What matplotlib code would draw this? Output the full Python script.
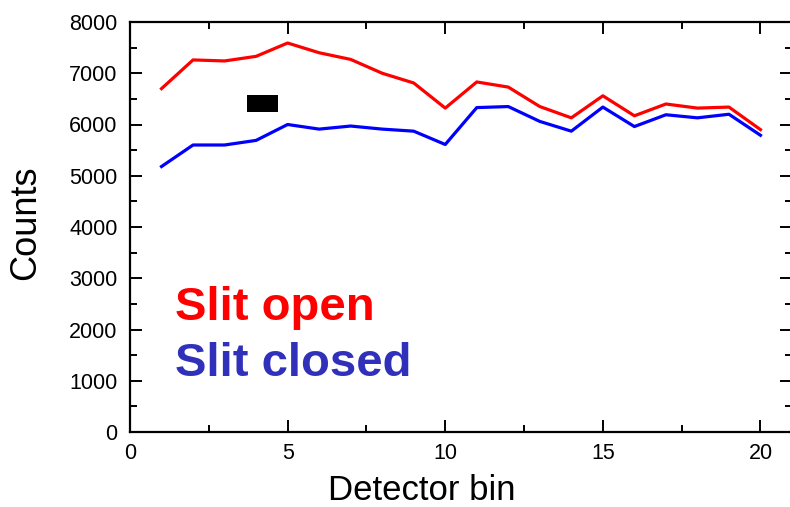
import numpy as np
import matplotlib
matplotlib.use('Agg')
import matplotlib.pyplot as plt
from matplotlib.ticker import MultipleLocator
from matplotlib.patches import Rectangle

# data
bins = np.arange(1, 21)
slit_open = [6700, 7260, 7240, 7330, 7590, 7400, 7270, 7000, 6810, 6320,
             6830, 6730, 6350, 6130, 6560, 6170, 6400, 6320, 6340, 5900]
slit_closed = [5180, 5600, 5600, 5690, 6000, 5910, 5970, 5910, 5870, 5610,
               6330, 6350, 6060, 5870, 6340, 5960, 6190, 6130, 6200, 5790]
labels = ['Slit open', 'Slit closed']

plt.rcParams['font.family'] = ['Liberation Sans', 'DejaVu Sans']

fig = plt.figure(figsize=(7.9, 5.07), dpi=100)
ax = fig.add_axes([130/790, 75/507, 662/790, 410/507])

ax.plot(bins, slit_open, color='#ff0000', lw=2.3)
ax.plot(bins, slit_closed, color='#0000ff', lw=2.3)

# black box in the plot
ax.add_patch(Rectangle((3.71, 6245), 1.0, 330, color='k', lw=0))

ax.text(1.43, 2185, labels[0], color='#ff0000', fontsize=34, fontweight='bold', va='baseline')
ax.text(1.43, 1093, labels[1], color='#3030bb', fontsize=34, fontweight='bold', va='baseline')

ax.set_xlim(0, 21)
ax.set_ylim(0, 8000)
ax.xaxis.set_major_locator(MultipleLocator(5))
ax.xaxis.set_minor_locator(MultipleLocator(2.5))
ax.yaxis.set_major_locator(MultipleLocator(1000))
ax.yaxis.set_minor_locator(MultipleLocator(500))
ax.tick_params(which='both', direction='in', top=True, right=True, width=1.4, labelsize=15.5)
ax.tick_params(which='major', length=8.5)
ax.tick_params(which='minor', length=5)
ax.tick_params(axis='x', pad=8)
ax.tick_params(axis='y', pad=9)
for s in ax.spines.values():
    s.set_linewidth(1.6)

ax.set_xlabel('Detector bin', fontsize=25)
ax.xaxis.label.set_va('baseline')
ax.xaxis.set_label_coords(0.44, -0.166)
ax.set_ylabel('Counts', fontsize=26)
ax.yaxis.label.set_va('center')
ax.yaxis.set_label_coords(-0.157, 0.51)

fig.savefig('out.png', dpi=100)
